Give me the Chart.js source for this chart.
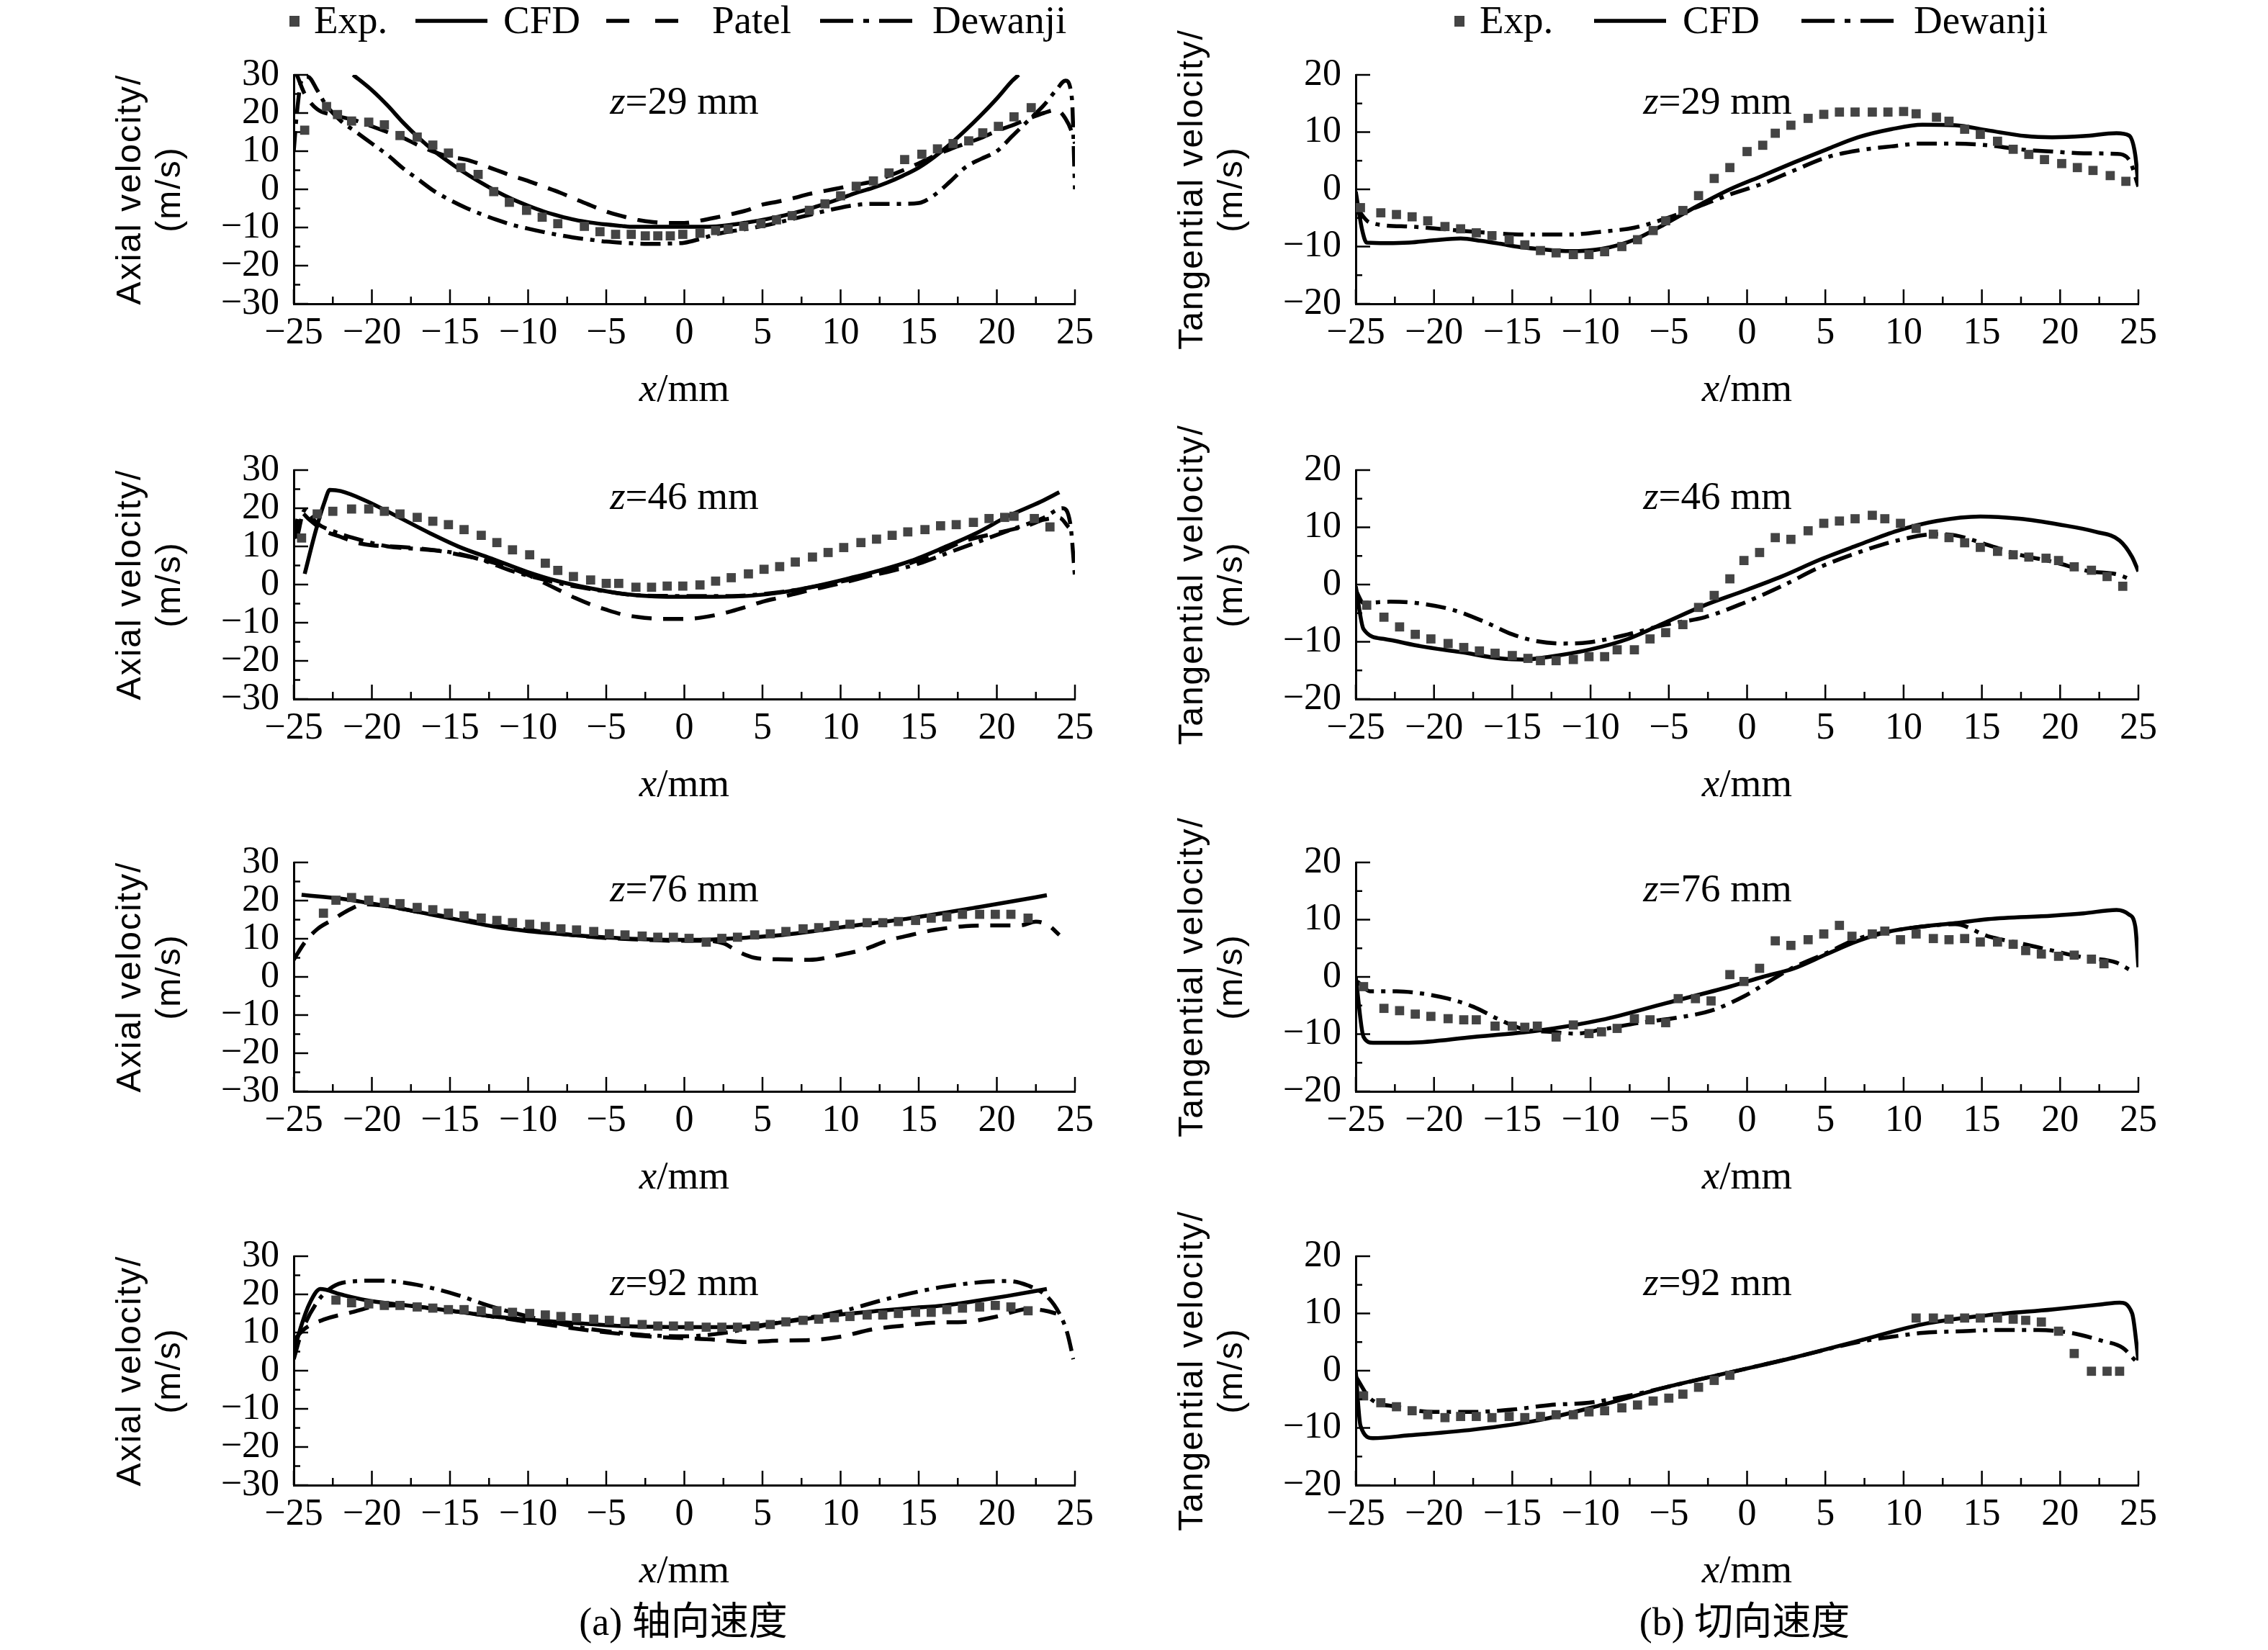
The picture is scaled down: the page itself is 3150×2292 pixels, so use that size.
<!DOCTYPE html>
<html>
<head>
<meta charset="utf-8">
<script src="https://cdn.jsdelivr.net/npm/chart.js@4.4.1/dist/chart.umd.min.js"></script>
<style>
  body { margin: 0; width: 3150px; height: 2292px; background: #fff; position: relative; overflow: hidden; }
  canvas { position: absolute; }
  .lg { position: absolute; top: 0; font: 55px/55px "Liberation Serif", serif; color: #000; white-space: nowrap; }
  .sq { position: absolute; top: 22px; width: 14px; height: 15px; background: #444; }
  .ls { position: absolute; top: 24px; }
  .cap { position: absolute; top: 2226px; width: 600px; text-align: center; font: 54px/55px "Liberation Serif", "Noto Sans CJK SC", serif; color: #000; }
</style>
</head>
<body>
<!-- legends -->
<div class="sq" style="left:402px"></div><div class="lg" style="left:436px">Exp.</div>
<svg class="ls" style="left:577px" width="100" height="10"><line x1="0" y1="5" x2="100" y2="5" stroke="#000" stroke-width="5.5"/></svg>
<div class="lg" style="left:699px">CFD</div>
<svg class="ls" style="left:842px" width="107" height="10"><line x1="0" y1="5" x2="107" y2="5" stroke="#000" stroke-width="5.5" stroke-dasharray="32 36"/></svg>
<div class="lg" style="left:989px">Patel</div>
<svg class="ls" style="left:1139px" width="131" height="10"><line x1="0" y1="5" x2="131" y2="5" stroke="#000" stroke-width="5.5" stroke-dasharray="46 14 8 14"/></svg>
<div class="lg" style="left:1295px">Dewanji</div>

<div class="sq" style="left:2020px"></div><div class="lg" style="left:2055px">Exp.</div>
<svg class="ls" style="left:2214px" width="100" height="10"><line x1="0" y1="5" x2="100" y2="5" stroke="#000" stroke-width="5.5"/></svg>
<div class="lg" style="left:2337px">CFD</div>
<svg class="ls" style="left:2502px" width="134" height="10"><line x1="0" y1="5" x2="134" y2="5" stroke="#000" stroke-width="5.5" stroke-dasharray="46 14 8 14"/></svg>
<div class="lg" style="left:2658px">Dewanji</div>

<div class="cap" style="left:649px">(a) 轴向速度</div>
<div class="cap" style="left:2123px">(b) 切向速度</div>

<script>
// ──────── AXES ────────
const xRange = [-25, 25];
const axialRange = [-30, 30];
const tangRange = [-20, 20];
const zValues = ["29", "46", "76", "92"];

// ──────── AXIAL VELOCITY, z=29 mm ────────
const axial29Exp = [[-24.3,15.5],[-22.9,21.7],[-22.2,19.6],[-21.3,17.9],[-20.2,17.6],[-19.2,16.9],[-18.2,14.1],[-17.1,13.7],[-16.1,11.6],[-15.1,9.5],[-14.3,5.7],[-13.2,3.9],[-12.2,-0.6],[-11.2,-3.4],[-10.1,-5.5],[-9.1,-7.3],[-8.1,-9.0],[-6.4,-9.7],[-5.4,-11.1],[-4.4,-11.8],[-3.4,-11.8],[-2.5,-12.2],[-1.7,-12.2],[-0.9,-12.2],[-0.1,-11.8],[1.0,-11.5],[2.0,-10.8],[2.8,-10.4],[3.8,-9.7],[4.9,-9.0],[5.9,-8.0],[6.9,-6.9],[8.0,-5.5],[9.0,-3.8],[10.0,-1.7],[11.0,0.8],[12.1,2.2],[13.1,4.3],[14.1,7.8],[15.2,9.2],[16.2,10.6],[17.2,12.0],[18.2,12.7],[19.1,14.8],[20.1,16.5],[21.1,19.0],[22.2,21.4]];
const axial29Cfd = [[-21.2,30],[-20,26],[-19,22],[-18,17.5],[-17,13.5],[-16,10],[-15,7],[-14,4.2],[-13,1.7],[-12,-0.6],[-11,-2.6],[-10,-4.3],[-9,-5.8],[-8,-7],[-7,-8],[-6,-8.7],[-5,-9.2],[-4,-9.6],[-3.5,-9.8],[1.5,-9.8],[3,-9.3],[4,-8.7],[5,-8],[6,-7.2],[7,-6.2],[8,-5.1],[9,-3.8],[10,-2.4],[11,-0.9],[12,0.3],[13,1.8],[14,3.6],[15,5.7],[16,8.5],[17,11.8],[18,15.5],[19,19.5],[20,23.8],[21,28.5],[21.4,30]];
const axial29Patel = [[-24.8,30],[-24.3,25],[-23.5,21],[-22.5,19.5],[-21,18],[-20,16.5],[-19,15],[-18,13.5],[-17,11.5],[-16,9.8],[-15,8.5],[-14,7.8],[-13,6.5],[-12,5],[-11,3.5],[-10,2.2],[-9,0.7],[-8,-0.8],[-7,-2.5],[-6,-4.2],[-5,-5.8],[-4,-7],[-3,-8],[-2,-8.6],[-1,-8.8],[0,-8.8],[1,-8.2],[2,-7.4],[3,-6.5],[4,-5.5],[5,-4],[6,-3.2],[7,-2.3],[8,-1.2],[9,-0.4],[10,0.4],[11,1.2],[12,2],[13,3.4],[14,5],[15,6.8],[16,8.8],[17,10.5],[18,12],[19,13.5],[20,15.3],[21,16.8],[22,18.5],[23,20],[23.8,20.8],[24.4,18.5],[24.8,15],[25,12]];
const axial29Dew = [[-25,10],[-24.8,20],[-24.5,28.5],[-24.1,29.5],[-23.5,26],[-23,22.5],[-22,18],[-21,15],[-20,12],[-19,9],[-18,5.5],[-17,2.5],[-16,-0.5],[-15,-2.8],[-14,-4.8],[-13,-6.5],[-12,-8],[-11,-9.3],[-10,-10.3],[-9,-11.2],[-8,-12],[-7,-12.7],[-6,-13.2],[-5,-13.7],[-4,-14],[-3,-14.2],[-2,-14.3],[-1,-14.2],[0,-14],[1,-13],[2,-11.8],[3,-11],[4,-10.4],[5,-9.6],[6,-8.7],[7,-7.7],[8,-6.7],[9,-5.7],[10,-4.8],[11,-4.1],[12,-3.8],[13,-3.8],[14,-3.8],[15,-3.6],[16,-1.5],[17,2],[18,5.8],[19,8],[20,10],[21,14],[22,18],[23,22],[23.8,26],[24.4,28.5],[24.8,24],[25,0]];

// ──────── AXIAL VELOCITY, z=46 mm ────────
const axial46Exp = [[-24.5,12.2],[-23.5,18.5],[-22.5,19.2],[-21.3,19.8],[-20.2,19.8],[-19.2,19.2],[-18.2,18.5],[-17.1,17.6],[-16.1,16.6],[-15.1,15.7],[-14.1,14.4],[-13,12.9],[-12,11],[-11,9.1],[-9.9,7.8],[-8.9,5.6],[-8.1,3.7],[-7.1,2.1],[-6,1.2],[-5,0.3],[-4.2,0.3],[-3.1,-0.7],[-2.1,-0.7],[-1.1,-0.4],[-0.1,-0.4],[1,-0.1],[2,0.9],[3,1.8],[4.1,2.8],[5.1,4],[6.1,4.7],[7.1,5.9],[8.2,7.2],[9.2,8.4],[10.2,9.7],[11.3,11],[12.3,11.9],[13.3,12.9],[14.3,13.8],[15.4,14.4],[16.4,15.4],[17.4,15.7],[18.5,16.3],[19.5,17.3],[20.5,17.6],[21.1,17.9],[22.4,17.3],[23.4,15.1]];
const axial46Cfd = [[-24.3,2.8],[-23.6,14],[-23,22],[-22.7,24.8],[-22,24.5],[-20.4,22],[-18.4,17.9],[-16.3,13.5],[-14.3,9.7],[-12.2,6.6],[-10.1,3.4],[-8.1,0.9],[-6,-1],[-4,-2.4],[-1.9,-3.1],[0,-3.2],[2,-3.2],[4.3,-2.9],[6.3,-2],[8.4,-0.4],[10.4,1.5],[12.5,3.7],[14.5,6.2],[16.6,9.7],[18.7,13.5],[20.7,17.9],[22.8,21.7],[24,24.2]];
const axial46Patel = [[-25,12],[-24.6,19],[-24,17],[-23,14],[-22,12.5],[-21,11],[-20,10.3],[-18,9.8],[-16,9],[-14,7.5],[-12,5.5],[-10,2.5],[-9,0.5],[-8,-1.5],[-7,-3.5],[-6,-5.2],[-5,-6.6],[-4,-7.8],[-3,-8.5],[-2,-8.9],[-1,-9],[0,-9],[1,-8.7],[2,-8],[3,-7],[4,-5.8],[5,-4.5],[6,-3.5],[7,-2.5],[8,-1.5],[10,0.3],[12,2.5],[14,5],[16,8],[18,11.5],[20,13.5],[22,15.5],[23,17],[24,17.5],[24.6,15]];
const axial46Dew = [[-24.8,12],[-24.3,19.5],[-23.5,16],[-22.5,14],[-21,12],[-19,10],[-17,9.3],[-15,8.5],[-13,6.5],[-11,3.5],[-9,1.3],[-7,-0.5],[-5,-1.8],[-3,-2.8],[0,-3],[3,-3],[5,-2.5],[7,-1.5],[9,0],[11,1.6],[13,3.3],[15,5.5],[17,8.5],[19,11.5],[21,14.5],[23,17.5],[24.2,20],[24.7,16],[25,2]];

// ──────── AXIAL VELOCITY, z=76 mm ────────
const axial76Exp = [[-23.1,16.7],[-22.3,20.1],[-21.3,20.8],[-20.2,20.1],[-19.2,19.5],[-18.2,19.2],[-17.1,18.2],[-16.1,17.6],[-15.1,16.7],[-14.1,16],[-13,15.4],[-12,14.8],[-11,14.2],[-9.9,13.8],[-8.9,13.2],[-7.9,12.6],[-6.9,12.3],[-5.8,11.9],[-4.8,11.3],[-3.8,11],[-2.7,10.7],[-1.7,10.4],[-0.7,10.4],[0.3,10.1],[1.4,9.1],[2.4,10.1],[3.4,10.4],[4.5,11],[5.5,11.3],[6.5,11.9],[7.6,12.6],[8.6,12.9],[9.6,13.5],[10.6,13.8],[11.7,14.2],[12.7,14.2],[13.7,14.5],[14.8,14.8],[15.8,15.4],[16.8,15.7],[17.8,16.4],[18.9,16.4],[19.9,16.4],[20.9,16.4],[22,15.4]];
const axial76Cfd = [[-24.5,21.5],[-22,20.5],[-20.4,19.5],[-18,17.8],[-16.3,16.4],[-14,14.6],[-12.2,13.2],[-10,12],[-8.1,11.3],[-6,10.6],[-4,10.1],[-2,9.8],[-0.7,9.7],[1,9.7],[2.2,9.9],[4,10.3],[6.3,11],[8.5,12.1],[10.4,13.2],[12.5,14.3],[14.5,15.4],[16.5,16.7],[18.7,18.2],[21,19.8],[23.2,21.4]];
const axial76Patel = [[-25,4.5],[-24.3,9],[-23.5,12.5],[-22.5,15],[-21.5,17.5],[-20.5,19],[-19,18.5],[-17,17],[-15,15.7],[-13,14.2],[-11,12.9],[-9,11.8],[-7,10.9],[-5,10.2],[-3,9.8],[-1,9.5],[1,9.5],[2.5,8.8],[3.5,6.5],[4.5,5],[6,4.6],[8,4.5],[10,5.8],[11.5,7.2],[13,9.5],[14.5,11],[16,12.3],[18,13.3],[20,13.5],[21.5,13.5],[22.5,14.5],[23.3,13.5],[24,11]];
const axial76Dew = [];

// ──────── AXIAL VELOCITY, z=92 mm ────────
const axial92Exp = [[-22.3,18.5],[-21.3,17.8],[-20.2,17.5],[-19.2,17.1],[-18.2,17.1],[-17.1,16.7],[-16.1,16.4],[-15.1,16],[-14.1,16],[-13,15.7],[-12,15.7],[-11,15.3],[-9.9,15],[-8.9,14.6],[-7.9,14.2],[-6.9,13.9],[-5.8,13.5],[-4.8,13.2],[-3.8,12.8],[-2.7,12.1],[-1.7,11.7],[-0.7,11.7],[0.3,11.7],[1.4,11.4],[2.4,11.4],[3.4,11.4],[4.5,11.7],[5.5,12.1],[6.5,12.8],[7.6,13.2],[8.6,13.5],[9.6,13.9],[10.6,14.2],[11.7,14.6],[12.7,14.6],[13.7,15],[14.8,15.3],[15.8,15.3],[16.8,16],[17.8,16.4],[18.9,16.7],[19.9,17.1],[20.9,16.7],[22,15.7]];
const axial92Cfd = [[-25,4.9],[-24.5,12],[-24,17.5],[-23.3,21.4],[-22,20],[-20.4,18.5],[-18,17.2],[-16.3,16.4],[-14,15.2],[-12.2,14.2],[-10,13.4],[-8.1,12.8],[-6,12.2],[-4,11.7],[-2,11.5],[0.1,11.4],[2,11.4],[4.3,11.7],[6.3,12.7],[8.4,13.9],[10.4,14.9],[12.5,15.7],[14.5,16.4],[16.6,17.1],[18.7,18.3],[20.7,19.6],[23.2,21.4]];
const axial92Patel = [[-25,8],[-24.3,11],[-23,13.5],[-21.3,15.3],[-19.5,17],[-18,17.1],[-16,16.2],[-14,15.2],[-12,14],[-10,12.8],[-8,11.6],[-6,10.5],[-4,9.6],[-2,8.9],[0,8.5],[2,8.1],[4,7.5],[6,7.9],[8,8],[10,8.9],[12,10.8],[14,11.8],[16,12.6],[18,12.8],[20,14.2],[22,16.2],[23,15.8],[23.8,15]];
const axial92Dew = [[-25,3],[-24.5,10],[-23.5,18],[-22.5,22],[-21.5,23.3],[-19.5,23.6],[-17.5,22.8],[-16,21.5],[-14.5,19.8],[-12.5,17],[-10,14.2],[-8,12.3],[-6,10.9],[-4,9.9],[-2,9.2],[0,9],[2,9.6],[4.3,11.2],[6,12.6],[8.4,14.2],[10.5,16],[12.5,18.3],[14.5,20.3],[16.6,22],[19,23.2],[20.7,23.5],[22,22.3],[23.2,19.5],[24,15],[24.5,10],[24.9,3]];

// ──────── TANGENTIAL VELOCITY, z=29 mm ────────
const tang29Exp = [[-24.7,-3.2],[-23.4,-4.1],[-22.4,-4.4],[-21.4,-4.8],[-20.4,-5.5],[-19.3,-6.5],[-18.3,-6.9],[-17.3,-7.6],[-16.3,-8.1],[-15.2,-8.8],[-14.2,-9.7],[-13.2,-10.7],[-12.2,-11.1],[-11.1,-11.4],[-10.1,-11.4],[-9.1,-10.9],[-8,-10],[-7,-8.8],[-6,-7.2],[-5.2,-5.5],[-4.1,-3.7],[-3.1,-1.1],[-2.1,1.9],[-1.1,3.8],[0,6.6],[1,7.7],[1.8,9.8],[2.8,11.2],[3.9,12.4],[4.9,13.1],[5.9,13.5],[6.9,13.5],[8,13.5],[9,13.5],[10,13.6],[10.8,13.2],[12.1,12.6],[12.9,11.9],[13.9,10.5],[14.9,9.6],[16,8.4],[17,7],[18,6.1],[19,5.2],[20.1,4.5],[21.1,3.8],[22.1,3.3],[23.2,2.4],[24.2,1.4]];
const tang29Cfd = [[-25,-0.4],[-24.6,-7],[-24.3,-9.3],[-23,-9.4],[-21.6,-9.3],[-20,-8.9],[-18.3,-8.6],[-17,-9],[-15.8,-9.5],[-14.5,-10.1],[-13.4,-10.4],[-11.3,-10.8],[-9.3,-10.4],[-7.2,-8.8],[-5.2,-6],[-3.1,-2.8],[-1.1,0],[1,2.4],[3,4.7],[5.1,7],[7.1,9.1],[9.2,10.5],[11.2,11.3],[13.3,11.2],[15.4,10.3],[17.8,9.3],[19.5,9.1],[21.5,9.3],[23.6,9.8],[24.4,9.4],[24.8,6],[25,0.5]];
const tang29Dew = [[-25,-3],[-24.1,-5.8],[-21.6,-6.5],[-17.5,-7.4],[-14.2,-7.9],[-11.3,-7.9],[-9.3,-7.4],[-7.2,-6.7],[-5.2,-5.1],[-3.1,-3],[-1.1,-0.9],[1,1],[3,3.3],[5.1,5.6],[7.1,6.8],[9.2,7.5],[11.2,8],[13.3,8],[15.4,7.7],[17.4,7],[19.5,6.6],[21.5,6.3],[23.6,6.2],[24.4,5.2],[25,0.5]];

// ──────── TANGENTIAL VELOCITY, z=46 mm ────────
const tang46Exp = [[-24.3,-3.6],[-23.2,-5.7],[-22.2,-7.4],[-21.2,-8.7],[-20.2,-9.5],[-19.1,-10.3],[-18.1,-11],[-17.1,-11.6],[-16.1,-12],[-15,-12.4],[-14,-12.9],[-13.2,-13.3],[-12.2,-13.3],[-11.1,-13.1],[-10.1,-12.6],[-9.1,-12.6],[-8.3,-11.4],[-7.2,-11.4],[-6.2,-9.5],[-5.2,-8.4],[-4.1,-7],[-3.1,-4],[-2.1,-1.9],[-1.1,1],[-0.2,4.2],[0.8,5.6],[1.8,8.2],[2.8,7.9],[3.9,9.4],[4.9,10.7],[5.9,11.1],[6.9,11.5],[8,12.1],[8.8,11.5],[9.8,10.7],[10.8,9.8],[11.9,8.8],[12.9,8.2],[13.9,7.3],[14.9,6.5],[16,5.8],[17,5.2],[18,4.8],[19.1,4.6],[19.9,4.2],[20.9,3.1],[22,2.5],[23,1.4],[24,-0.3]];
const tang46Cfd = [[-25,-0.3],[-24.5,-7.8],[-23.2,-9.5],[-20.8,-10.8],[-18.3,-11.8],[-15.8,-12.9],[-14.2,-13.1],[-12.6,-12.6],[-10.1,-11.4],[-7.6,-9.5],[-5.2,-6.6],[-2.7,-3.6],[-0.2,-1.1],[2.2,1.4],[4.7,4.4],[7.1,6.9],[9.6,9.4],[12.1,11.1],[14.9,11.9],[17.4,11.5],[19.9,10.5],[22.3,9.2],[23.8,7.7],[24.6,4.8],[25,2.3]];
const tang46Dew = [[-25,-1],[-24.5,-3.2],[-22.8,-3],[-21.2,-3.2],[-18.7,-4.5],[-16.7,-6.6],[-15,-8.7],[-13.4,-9.9],[-11.7,-10.3],[-10.1,-10.1],[-7.6,-8.7],[-5.2,-7],[-2.7,-5.7],[-0.2,-3.2],[2.2,-0.3],[4.7,3.1],[7.1,5.6],[9.6,7.7],[12.1,8.8],[13.3,8.6],[15.4,6.9],[17.4,5.2],[19.5,4],[21.9,2.3],[23.6,1.8],[24.6,0.8]];

// ──────── TANGENTIAL VELOCITY, z=76 mm ────────
const tang76Exp = [[-24.5,-1.7],[-23.2,-5.5],[-22.2,-5.9],[-21.2,-6.5],[-20.2,-6.9],[-19.1,-7.3],[-18.1,-7.5],[-17.3,-7.5],[-16.1,-8.6],[-15,-8.6],[-14.2,-8.8],[-13.4,-8.6],[-12.2,-10.5],[-11.1,-8.4],[-10.1,-9.9],[-9.3,-9.6],[-8.3,-9],[-7.2,-7.3],[-6.2,-7.5],[-5.2,-8],[-4.4,-3.8],[-3.3,-3.8],[-2.3,-4.2],[-1.1,0.4],[-0.2,-0.8],[0.8,1.5],[1.8,6.3],[2.8,5.5],[3.9,6.5],[4.9,7.5],[5.9,9],[6.7,7.1],[8,7.5],[8.8,8],[9.8,6.5],[10.8,7.5],[11.9,6.7],[12.9,6.5],[13.9,6.7],[14.9,6.1],[16,6.1],[17,5.7],[17.8,4.6],[18.8,4],[19.9,3.6],[20.9,3.8],[22,3.1],[22.8,2.3]];
const tang76Cfd = [[-25,0],[-24.5,-10.5],[-23.9,-11.5],[-21.6,-11.5],[-17.5,-10.5],[-13.4,-9.4],[-9.3,-7.5],[-5.2,-4.6],[-1.1,-1.7],[1,0],[3,1.5],[5.1,4],[7.1,6.3],[9.2,8],[11.2,8.8],[13.3,9.4],[15.4,10.1],[19.5,10.7],[21.5,11.1],[23.6,11.7],[24.4,10.9],[24.8,8.8],[25,1.7]];
const tang76Dew = [[-24.9,-0.8],[-24.1,-2.5],[-22.4,-2.5],[-20.8,-2.9],[-19.1,-3.8],[-17.5,-5.2],[-15.8,-7.5],[-14.2,-9.2],[-12.6,-9.6],[-10.9,-9.9],[-9.3,-9.2],[-6.8,-8],[-4.4,-7.1],[-2.3,-5.9],[-0.2,-3.4],[1.4,-0.8],[3,1.7],[5.1,4.2],[7.1,6.7],[9.2,8],[11.2,8.8],[13.3,9.2],[15.4,7.1],[17.4,5.9],[19.5,4.6],[21.5,3.4],[23.6,2.5],[24.4,1.3]];

// ──────── TANGENTIAL VELOCITY, z=92 mm ────────
const tang92Exp = [[-24.5,-4.4],[-23.4,-5.6],[-22.4,-6.3],[-21.4,-7],[-20.4,-7.7],[-19.3,-8.2],[-18.3,-8],[-17.3,-8],[-16.3,-8.2],[-15.2,-8],[-14.2,-8.2],[-13.2,-8],[-12.2,-7.7],[-11.1,-7.7],[-10.1,-7.2],[-9.1,-7],[-8,-6.5],[-7,-6],[-6,-5.3],[-5,-4.8],[-4.1,-4.1],[-3.1,-2.9],[-2.1,-1.7],[-1.1,-0.8],[10.8,9.2],[11.9,9.2],[12.9,9],[13.9,9.2],[14.9,9.2],[16,9.2],[17,9],[17.8,8.8],[18.8,8.5],[19.9,6.9],[20.9,3],[22,-0.1],[23,-0.1],[23.8,-0.1]];
const tang92Cfd = [[-25,-0.1],[-24.7,-9.6],[-23.9,-11.8],[-21.6,-11.3],[-17.5,-10.3],[-13.4,-8.7],[-9.3,-6],[-5.2,-2.9],[-1.1,-0.3],[3,2.3],[7.1,5.2],[11.2,8.1],[15.4,9.7],[19.5,10.7],[22.7,11.6],[23.8,11.9],[24.6,10],[25,1.8]];
const tang92Dew = [[-25,-1],[-24.1,-4.8],[-22.4,-6.3],[-20,-7.2],[-17.5,-7.2],[-15,-6.8],[-12.6,-6],[-10.1,-5.6],[-7.6,-4.4],[-5.2,-2.9],[-1.1,-0.3],[3,2.3],[7.1,5],[9.2,5.9],[11.2,6.6],[13.7,6.9],[16.2,7.1],[18.6,7.1],[20.7,6.6],[22.7,5.2],[24,4],[24.8,1.8]];

// ──────── PANEL LAYOUT ────────
const panelTops = [104, 653, 1198, 1745];
const plotH = 318, padTop = 80, padRight = 60, yAxisW = 300, xAxisH = 160;

const panels = [
  { col: 0, row: 0, exp: axial29Exp, cfd: axial29Cfd, patel: axial29Patel, dew: axial29Dew },
  { col: 0, row: 1, exp: axial46Exp, cfd: axial46Cfd, patel: axial46Patel, dew: axial46Dew },
  { col: 0, row: 2, exp: axial76Exp, cfd: axial76Cfd, patel: axial76Patel, dew: axial76Dew },
  { col: 0, row: 3, exp: axial92Exp, cfd: axial92Cfd, patel: axial92Patel, dew: axial92Dew },
  { col: 1, row: 0, exp: tang29Exp, cfd: tang29Cfd, dew: tang29Dew },
  { col: 1, row: 1, exp: tang46Exp, cfd: tang46Cfd, dew: tang46Dew },
  { col: 1, row: 2, exp: tang76Exp, cfd: tang76Cfd, dew: tang76Dew },
  { col: 1, row: 3, exp: tang92Exp, cfd: tang92Cfd, dew: tang92Dew }
];
const columns = [
  { plotLeft: 408, plotW: 1085, range: axialRange, title: ["Axial velocity/", "(m/s)"], zShift: 0 },
  { plotLeft: 1883, plotW: 1087, range: tangRange, title: ["Tangential velocity/", "(m/s)"], zShift: -41 }
];

const toXY = arr => arr.map(([x, y]) => ({ x, y }));
const fmt = v => (v < 0 ? "\u2212" + Math.abs(v) : String(v));
const SERIF = '"Liberation Serif", serif';

// ──────── INWARD TICKS + TEXT ────────
const panelDeco = {
  id: "panelDeco",
  afterDraw(chart, args, o) {
    const { ctx, chartArea: a, scales: { x, y } } = chart;
    ctx.save();
    ctx.strokeStyle = "#000";
    ctx.lineWidth = 2.5;
    for (let v = xRange[0]; v <= xRange[1] + 1e-9; v += 2.5) {
      const px = x.getPixelForValue(v);
      const len = Math.abs(v % 5) < 1e-9 ? 20 : 10;
      ctx.beginPath(); ctx.moveTo(px, a.bottom); ctx.lineTo(px, a.bottom - len); ctx.stroke();
    }
    for (let v = o.range[0]; v <= o.range[1] + 1e-9; v += 5) {
      const py = y.getPixelForValue(v);
      const len = Math.abs(v % 10) < 1e-9 ? 20 : 9;
      ctx.beginPath(); ctx.moveTo(a.left, py); ctx.lineTo(a.left + len, py); ctx.stroke();
    }

    ctx.fillStyle = "#000";
    ctx.textBaseline = "alphabetic";
    const mixed = (ital, rest, cx, base) => {
      ctx.font = "italic 55px " + SERIF;
      const w1 = ctx.measureText(ital).width;
      ctx.font = "55px " + SERIF;
      const w2 = ctx.measureText(rest).width;
      const x0 = cx - (w1 + w2) / 2;
      ctx.textAlign = "left";
      ctx.font = "italic 55px " + SERIF;
      ctx.fillText(ital, x0, base);
      ctx.font = "55px " + SERIF;
      ctx.fillText(rest, x0 + w1, base);
    };
    const cx = (a.left + a.right) / 2;
    mixed("z", "=" + o.z + " mm", cx + o.zShift, a.top + 54);
    mixed("x", "/mm", cx, a.bottom + 135);

    // rotated y title, two lines
    ctx.font = '48px "Liberation Sans", sans-serif';
    ctx.letterSpacing = "2px";
    ctx.textAlign = "center";
    ctx.textBaseline = "middle";
    const cy = (a.top + a.bottom) / 2;
    [-226, -171].forEach((dx, i) => {
      ctx.save();
      ctx.translate(a.left + dx, cy);
      ctx.rotate(-Math.PI / 2);
      ctx.fillText(o.title[i], 0, 0);
      ctx.restore();
    });
    ctx.restore();
  }
};

const lineSet = (label, pts, dash) => ({
  label, data: toXY(pts), showLine: true, borderColor: "#000", borderWidth: 5.5,
  borderDash: dash, pointRadius: 0, cubicInterpolationMode: "monotone", fill: false
});

panels.forEach(p => {
  const col = columns[p.col];
  const cv = document.createElement("canvas");
  const w = yAxisW + col.plotW + padRight, h = padTop + plotH + xAxisH;
  cv.width = w; cv.height = h;
  cv.style.left = (col.plotLeft - yAxisW) + "px";
  cv.style.top = (panelTops[p.row] - padTop) + "px";
  document.body.appendChild(cv);

  const datasets = [{
    label: "Exp.", data: toXY(p.exp), showLine: false, pointStyle: "rect",
    pointRadius: 9, pointBackgroundColor: "#444", pointBorderWidth: 0, borderColor: "#444"
  }, lineSet("CFD", p.cfd, [])];
  if (p.patel) datasets.push(lineSet("Patel", p.patel, [28, 16]));
  if (p.dew && p.dew.length) datasets.push(lineSet("Dewanji", p.dew, [28, 10, 6, 10]));

  new Chart(cv, {
    type: "line",
    data: { datasets },
    options: {
      responsive: false, animation: false, devicePixelRatio: 1,
      layout: { padding: { top: padTop, right: padRight, left: 0, bottom: 0 } },
      plugins: {
        legend: { display: false }, tooltip: { enabled: false },
        panelDeco: { range: col.range, title: col.title, z: zValues[p.row], zShift: col.zShift }
      },
      scales: {
        x: {
          type: "linear", min: xRange[0], max: xRange[1],
          grid: { display: false, drawTicks: false },
          border: { display: true, color: "#000", width: 3 },
          ticks: { stepSize: 5, autoSkip: false, maxRotation: 0, padding: 10, color: "#000",
                   font: { family: "Liberation Serif", size: 52 }, callback: fmt },
          afterFit: s => { s.height = xAxisH; }
        },
        y: {
          type: "linear", min: col.range[0], max: col.range[1],
          grid: { display: false, drawTicks: false },
          border: { display: true, color: "#000", width: 3 },
          ticks: { stepSize: 10, autoSkip: false, padding: 20, color: "#000",
                   font: { family: "Liberation Serif", size: 52 }, callback: fmt },
          afterFit: s => { s.width = yAxisW; }
        }
      }
    },
    plugins: [panelDeco]
  });
});
</script>
</body>
</html>
